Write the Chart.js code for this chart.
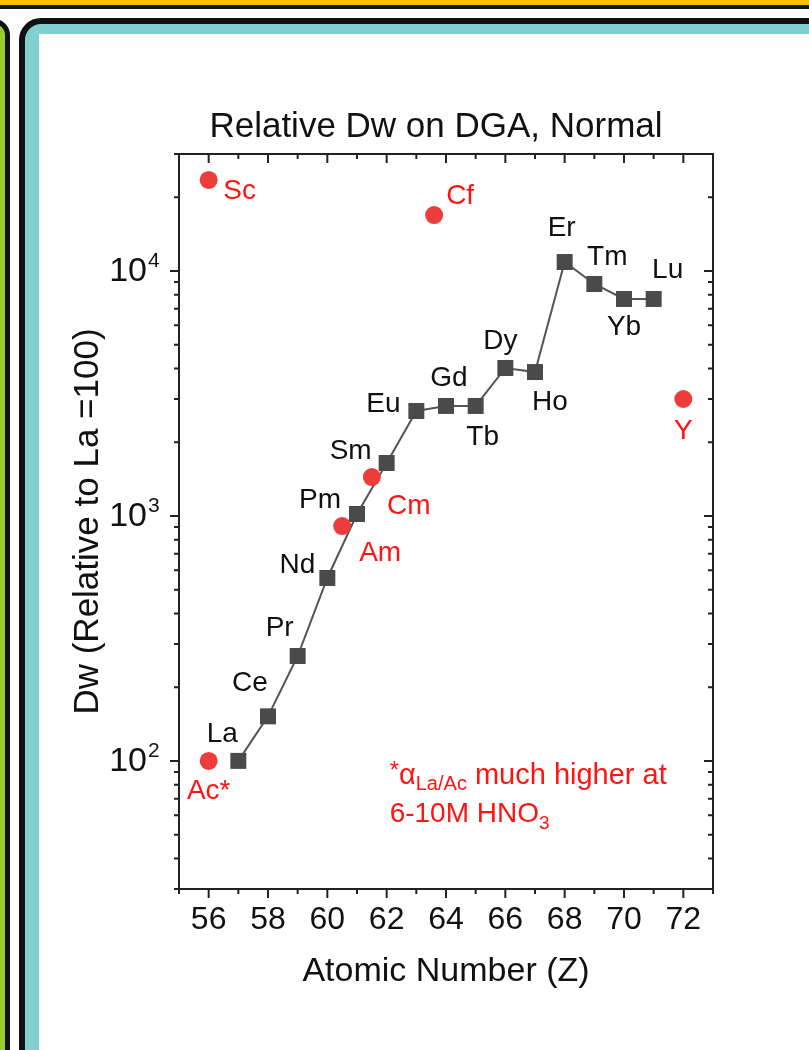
<!DOCTYPE html>
<html>
<head>
<meta charset="utf-8">
<script src="https://cdn.jsdelivr.net/npm/chart.js@4"></script>
<style>
body{margin:0;width:809px;height:1050px;overflow:hidden;background:#fff;position:relative}
#bar{position:absolute;left:0;top:0;width:809px;height:5px;background:#ffc000;border-bottom:4px solid #151515}
#green{position:absolute;left:-40px;top:19px;width:40px;height:1100px;background:#99cb2f;border:5px solid #111;border-radius:16px}
#panel{position:absolute;left:19px;top:18px;width:900px;height:1100px;background:#80cfd1;border:6px solid #111;border-radius:22px}
#inner{position:absolute;left:14px;top:10px;right:0;bottom:0;background:#fff}
#c{position:absolute;left:0;top:0}
</style>
</head>
<body>
<div id="bar"></div>
<div id="green"></div>
<div id="panel"><div id="inner"></div></div>
<canvas id="c" width="809" height="1050"></canvas>
<script>
// lanthanides (grey squares, joined)
var lnNames = ['La','Ce','Pr','Nd','Pm','Sm','Eu','Gd','Tb','Dy','Ho','Er','Tm','Yb','Lu'];
var lnZ = [57,58,59,60,61,62,63,64,65,66,67,68,69,70,71];
var lnDw = [100,152,268,558,1018,1644,2680,2810,2810,4015,3865,10870,8840,7680,7680];

// other elements (red dots)
var otherNames = ['Sc','Ac*','Am','Cm','Cf','Y'];
var otherZ = [56,56,60.5,61.5,63.6,72];
var otherDw = [23500,100,909,1441,16900,3000];

// axis ticks
var xTickLabels = [56,58,60,62,64,66,68,70,72];
var yTickExp = [2,3,4];

// label offsets from the marker, in pixels
var lnLabelOffset = [[-16,-27],[-18,-33],[-18,-28],[-30,-13],[-37,-14],[-36,-12],[-33,-7],[3,-28],[7,31],[-5,-27],[15,30],[-3,-34],[13,-27],[0,28],[14,-29]];
var otherLabelOffset = [[31,11],[0,30],[38,27],[37,29],[26,-19],[0,32]];

var FONT = '"Liberation Sans", Arial, sans-serif';
var RED = '#ff1414';

var axisBox = {
  id: 'axisBox',
  beforeDatasetsDraw: function(chart) {
    var ctx = chart.ctx, a = chart.chartArea, x = chart.scales.x, y = chart.scales.y;
    ctx.save();
    ctx.strokeStyle = '#222';
    ctx.lineWidth = 2;
    ctx.strokeRect(a.left, a.top, a.right - a.left, a.bottom - a.top);
    ctx.beginPath();
    for (var z = x.min; z <= x.max; z++) {
      var px = x.getPixelForValue(z);
      var len = xTickLabels.indexOf(z) >= 0 ? 9 : 5;
      ctx.moveTo(px, a.bottom); ctx.lineTo(px, a.bottom + len);
      ctx.moveTo(px, a.top); ctx.lineTo(px, a.top + len);
    }
    for (var e = 1; e <= 4; e++) {
      for (var m = 1; m <= 9; m++) {
        var v = m * Math.pow(10, e);
        if (v < y.min || v > y.max) continue;
        var py = y.getPixelForValue(v);
        var l = m === 1 ? 9 : 5;
        ctx.moveTo(a.left, py); ctx.lineTo(a.left - l, py);
        ctx.moveTo(a.right, py); ctx.lineTo(a.right - l, py);
      }
    }
    ctx.stroke();

    // 10^n labels
    ctx.fillStyle = '#111';
    ctx.textBaseline = 'middle';
    yTickExp.forEach(function(n) {
      var py = y.getPixelForValue(Math.pow(10, n));
      ctx.font = '34px ' + FONT;
      ctx.textAlign = 'right';
      ctx.fillText('10', a.left - 32, py + 1);
      ctx.font = '21px ' + FONT;
      ctx.textAlign = 'left';
      ctx.fillText(String(n), a.left - 31, py - 10);
    });

    // title, a little left of the plot centre as in the original
    ctx.font = '35px ' + FONT;
    ctx.textAlign = 'center';
    ctx.fillText('Relative Dw on DGA, Normal', (a.left + a.right) / 2 - 10, a.top - 27);
    ctx.restore();
  },
  afterDatasetsDraw: function(chart) {
    var ctx = chart.ctx, x = chart.scales.x, y = chart.scales.y;
    ctx.save();
    ctx.textAlign = 'center';
    ctx.textBaseline = 'middle';
    ctx.font = '28px ' + FONT;
    var lnPts = chart.getDatasetMeta(0).data;
    ctx.fillStyle = '#111';
    lnNames.forEach(function(name, i) {
      ctx.fillText(name, lnPts[i].x + lnLabelOffset[i][0], lnPts[i].y + lnLabelOffset[i][1]);
    });
    var otPts = chart.getDatasetMeta(1).data;
    ctx.fillStyle = RED;
    otherNames.forEach(function(name, i) {
      ctx.fillText(name, otPts[i].x + otherLabelOffset[i][0], otPts[i].y + otherLabelOffset[i][1]);
    });

    // footnote
    var nx = x.getPixelForValue(62.1), ny = y.getPixelForValue(87);
    ctx.textAlign = 'left';
    var cx = nx;
    function part(txt, size, dy) {
      ctx.font = size + 'px ' + FONT;
      ctx.fillText(txt, cx, ny + dy);
      cx += ctx.measureText(txt).width;
    }
    part('*', 24, -4);
    part('\u03b1', 29, 0);
    part('La/Ac', 20, 9);
    part(' much higher at', 29, 0);
    cx = nx;
    ny += 39;
    part('6-10M HNO', 28, 0);
    part('3', 19, 9);
    ctx.restore();
  }
};

new Chart(document.getElementById('c'), {
  type: 'line',
  data: {
    datasets: [
      {
        label: 'Lanthanides',
        data: lnZ.map(function(z, i) { return {x: z, y: lnDw[i]}; }),
        borderColor: '#555',
        borderWidth: 2,
        tension: 0,
        pointStyle: 'rect',
        pointRadius: 11.3,
        pointBackgroundColor: '#4a4a4a',
        pointBorderWidth: 0,
        order: 2
      },
      {
        label: 'Others',
        data: otherZ.map(function(z, i) { return {x: z, y: otherDw[i]}; }),
        showLine: false,
        pointStyle: 'circle',
        pointRadius: 9,
        pointBackgroundColor: '#ee3c3c',
        pointBorderWidth: 0,
        order: 1
      }
    ]
  },
  options: {
    responsive: false,
    animation: false,
    layout: { padding: { left: 0, right: 96, top: 154, bottom: 0 } },
    plugins: {
      legend: { display: false },
      tooltip: { enabled: false },
      title: { display: false }
    },
    scales: {
      x: {
        type: 'linear',
        min: 55,
        max: 73,
        grid: { display: false, drawTicks: false },
        border: { display: false },
        ticks: {
          stepSize: 1,
          autoSkip: false,
          maxRotation: 0,
          padding: 12,
          color: '#111',
          font: { family: FONT, size: 32 },
          callback: function(v) { return xTickLabels.indexOf(v) >= 0 ? String(v) : ''; }
        },
        title: {
          display: true,
          text: 'Atomic Number (Z)',
          color: '#111',
          font: { family: FONT, size: 34 },
          padding: { top: 0, bottom: 57.6 }
        },
        afterFit: function(s) { s.height = 161; }
      },
      y: {
        type: 'logarithmic',
        min: 30,
        max: 30000,
        grid: { display: false, drawTicks: false },
        border: { display: false },
        ticks: { display: false },
        title: {
          display: true,
          text: 'Dw (Relative to La =100)',
          color: '#111',
          font: { family: FONT, size: 35 },
          padding: { top: 67, bottom: 0 }
        },
        afterFit: function(s) { s.width = 179; }
      }
    }
  },
  plugins: [axisBox]
});
</script>
</body>
</html>
